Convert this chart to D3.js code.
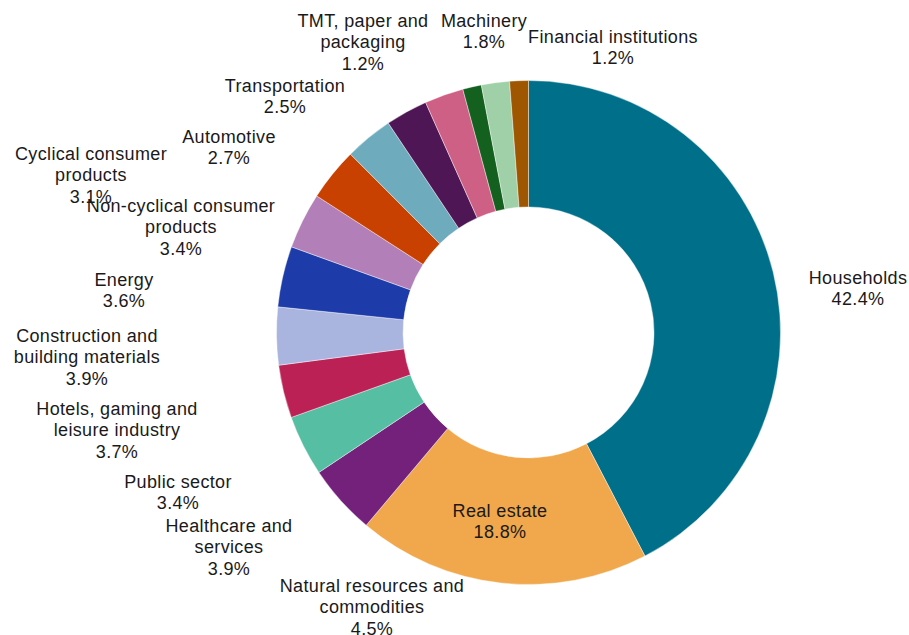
<!DOCTYPE html>
<html>
<head>
<meta charset="utf-8">
<script src="https://cdn.jsdelivr.net/npm/d3@7"></script>
<style>
  html, body { margin: 0; padding: 0; background: #ffffff; }
  svg { display: block; }
  text { font-family: "Liberation Sans", Arial, sans-serif; font-size: 18px; fill: #1a1a1a; letter-spacing: 0.35px; }
</style>
</head>
<body>
<svg id="chart" width="909" height="635"></svg>
<script>
// Sector breakdown, clockwise from 12 o'clock
const sectors = [
  "Households",
  "Real estate",
  "Natural resources and commodities",
  "Healthcare and services",
  "Public sector",
  "Hotels, gaming and leisure industry",
  "Construction and building materials",
  "Energy",
  "Non-cyclical consumer products",
  "Cyclical consumer products",
  "Automotive",
  "Transportation",
  "TMT, paper and packaging",
  "Machinery",
  "Financial institutions"
];
const shares = [42.4, 18.8, 4.5, 3.9, 3.4, 3.7, 3.9, 3.6, 3.4, 3.1, 2.7, 2.5, 1.2, 1.8, 1.2];

// Label lines for each sector (name wrapped as displayed)
const labelLines = [
  ["Households"],
  ["Real estate"],
  ["Natural resources and", "commodities"],
  ["Healthcare and", "services"],
  ["Public sector"],
  ["Hotels, gaming and", "leisure industry"],
  ["Construction and", "building materials"],
  ["Energy"],
  ["Non-cyclical consumer", "products"],
  ["Cyclical consumer", "products"],
  ["Automotive"],
  ["Transportation"],
  ["TMT, paper and", "packaging"],
  ["Machinery"],
  ["Financial institutions"]
];

const palette = [
  "#00708a", "#f1a74b", "#74217c", "#55bea3", "#bb2154",
  "#a9b4df", "#1e3ca9", "#b27fb9", "#c94100", "#6eabbd",
  "#4f1655", "#cf6085", "#13601f", "#9fd0a8", "#9e5700"
];

// Text block anchors: centre x and first baseline y
const labelAnchor = [
  [858, 284], [500, 517], [372, 592], [229, 532], [178, 488],
  [117, 415], [87, 342], [124, 286], [181, 212], [91, 160],
  [229, 143], [285, 92], [363, 27], [484, 27], [613, 43]
];

const cx = 528.5, cy = 332.5;
const outerR = 252, innerR = 125.5;
const lineH = 21.3;

const svg = d3.select("#chart");
const g = svg.append("g").attr("transform", `translate(${cx},${cy})`);

const data = sectors.map((name, i) => ({ name, value: shares[i], i }));

const pie = d3.pie().value(d => d.value).sort(null);
const arc = d3.arc().innerRadius(innerR).outerRadius(outerR);
const color = d3.scaleOrdinal().domain(sectors).range(palette);

g.selectAll("path.slice")
  .data(pie(data))
  .join("path")
  .attr("class", "slice")
  .attr("d", arc)
  .attr("fill", d => color(d.data.name))
  .attr("stroke", "#ffffff")
  .attr("stroke-width", 0.6)
  .attr("stroke-opacity", 0.7);

const labels = svg.selectAll("text.lbl")
  .data(data)
  .join("text")
  .attr("class", "lbl")
  .attr("text-anchor", "middle");

labels.each(function(d) {
  const t = d3.select(this);
  const [ax, ay] = labelAnchor[d.i];
  const lines = labelLines[d.i].concat([d.value.toFixed(1) + "%"]);
  lines.forEach((ln, k) => {
    t.append("tspan").attr("x", ax).attr("y", ay + k * lineH).text(ln);
  });
});
</script>
</body>
</html>
